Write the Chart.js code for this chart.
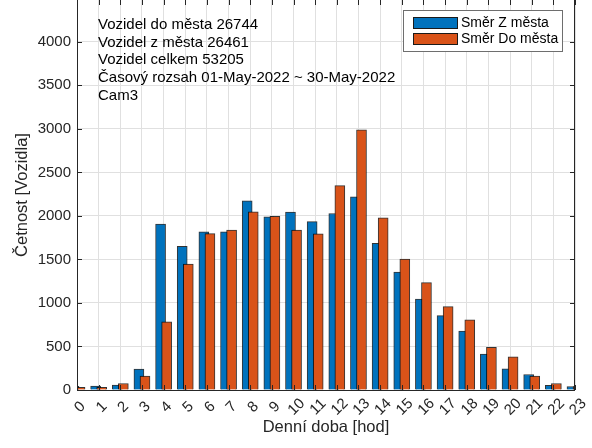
<!DOCTYPE html>
<html lang="cs">
<head>
<meta charset="UTF-8" />
<title>Četnost vozidel</title>
<script src="https://cdn.jsdelivr.net/npm/chart.js"></script>
<style>
  html, body { margin: 0; padding: 0; background: #fff; }
  #wrap { width: 592px; height: 448px; }
</style>
</head>
<body>
<div id="wrap"><canvas id="chart" width="592" height="448"></canvas></div>
<script>
  // hodiny dne a počty vozidel
  const hours = [0, 1, 2, 3, 4, 5, 6, 7, 8, 9, 10, 11, 12, 13, 14, 15, 16, 17, 18, 19, 20, 21, 22, 23];
  const smerZMesta = [42, 46, 57, 240, 1905, 1650, 1818, 1818, 2172, 1988, 2045, 1935,
                      2027, 2218, 1684, 1355, 1043, 855, 676, 412, 242, 178, 55, 40];
  const smerDoMesta = [30, 30, 75, 160, 782, 1447, 1797, 1836, 2046, 1995, 1836, 1793,
                       2348, 2990, 1977, 1505, 1234, 958, 806, 490, 380, 160, 75, 40];
  const yTickValues = [0, 500, 1000, 1500, 2000, 2500, 3000, 3500, 4000];
  const infoLines = [
    'Vozidel do města 26744',
    'Vozidel z města 26461',
    'Vozidel celkem 53205',
    'Časový rozsah 01-May-2022 ~ 30-May-2022',
    'Cam3'
  ];

  const FONT = "'Liberation Sans', Arial, Helvetica, sans-serif";
  const AXIS = '#262626';
  const GRID = '#e0e0e0';
  const shift = 0.14; // posun sloupců vůči hodině

  // osy MATLAB stylem: čáry a vnitřní tick značky
  const axesBox = {
    id: 'axesBox',
    afterDatasetsDraw(chart) {
      const { ctx, chartArea: a, scales: { x, y } } = chart;
      ctx.save();
      ctx.strokeStyle = AXIS;
      ctx.lineWidth = 1;
      ctx.beginPath();
      ctx.moveTo(a.left + 0.5, a.top);
      ctx.lineTo(a.left + 0.5, a.bottom + 0.5);
      ctx.lineTo(a.right - 0.5, a.bottom + 0.5);
      ctx.lineTo(a.right - 0.5, a.top);
      x.ticks.forEach(t => {
        const px = Math.round(x.getPixelForValue(t.value)) + 0.5;
        ctx.moveTo(px, a.bottom); ctx.lineTo(px, a.bottom - 5);
        ctx.moveTo(px, a.top); ctx.lineTo(px, a.top + 5);
      });
      y.ticks.forEach(t => {
        const py = Math.round(y.getPixelForValue(t.value)) + 0.5;
        ctx.moveTo(a.left, py); ctx.lineTo(a.left + 5, py);
        ctx.moveTo(a.right, py); ctx.lineTo(a.right - 5, py);
      });
      ctx.stroke();

      // popisky hodin otočené o 45°, centrované pod značkou
      ctx.fillStyle = AXIS;
      ctx.font = '15px ' + FONT;
      ctx.textAlign = 'center';
      ctx.textBaseline = 'middle';
      x.ticks.forEach(t => {
        ctx.save();
        ctx.translate(x.getPixelForValue(t.value) + 3, a.bottom + 17);
        ctx.rotate(-Math.PI / 4);
        ctx.fillText(String(t.value), 0, 0);
        ctx.restore();
      });
      ctx.restore();
    }
  };

  // textový popis vlevo nahoře
  const infoText = {
    id: 'infoText',
    afterDraw(chart) {
      const { ctx, chartArea: a } = chart;
      ctx.save();
      ctx.fillStyle = '#000';
      ctx.font = '15px ' + FONT;
      ctx.textBaseline = 'alphabetic';
      infoLines.forEach((line, i) => ctx.fillText(line, a.left + 21, 29 + i * 17.7));
      ctx.restore();
    }
  };

  // legenda uvnitř grafu
  const legendBox = {
    id: 'legendBox',
    afterDraw(chart) {
      const { ctx, chartArea: a } = chart;
      const w = 160, h = 42;
      const x0 = a.right - 12 - w, y0 = 10;
      ctx.save();
      ctx.fillStyle = '#fff';
      ctx.fillRect(x0, y0, w, h);
      ctx.strokeStyle = '#6e6e6e';
      ctx.lineWidth = 1;
      ctx.strokeRect(x0 + 0.5, y0 + 0.5, w - 1, h - 1);
      ctx.font = '14px ' + FONT;
      ctx.textBaseline = 'middle';
      chart.data.datasets.forEach((ds, i) => {
        const cy = y0 + 13 + i * 16;
        ctx.fillStyle = ds.backgroundColor;
        ctx.fillRect(x0 + 10, cy - 6, 45, 12);
        ctx.strokeStyle = '#1a1a1a';
        ctx.strokeRect(x0 + 10.5, cy - 5.5, 44, 11);
        ctx.fillStyle = '#000';
        ctx.fillText(ds.label, x0 + 58, cy);
      });
      ctx.restore();
    }
  };

  new Chart(document.getElementById('chart'), {
    type: 'bar',
    data: {
      datasets: [
        {
          label: 'Směr Z města',
          data: hours.map((h, i) => ({ x: h - shift, y: smerZMesta[i] })),
          backgroundColor: '#0072BD',
          borderColor: 'rgba(0,0,0,0.8)',
          borderWidth: 1,
          order: 1
        },
        {
          label: 'Směr Do města',
          data: hours.map((h, i) => ({ x: h + shift, y: smerDoMesta[i] })),
          backgroundColor: '#D95319',
          borderColor: 'rgba(0,0,0,0.8)',
          borderWidth: 1,
          order: 0
        }
      ]
    },
    options: {
      responsive: false,
      animation: false,
      devicePixelRatio: 1,
      layout: { padding: { left: 0, right: 17, top: 0, bottom: 0 } },
      datasets: { bar: { grouped: false, barThickness: 10, barPercentage: 1, clip: 0 } },
      plugins: { legend: { display: false }, tooltip: { enabled: false } },
      scales: {
        x: {
          type: 'linear',
          offset: false,
          min: 0,
          max: 23,
          afterBuildTicks: s => { s.ticks = hours.map(h => ({ value: h })); },
          ticks: { display: false, autoSkip: false },
          grid: { color: GRID, drawTicks: false, offset: false },
          border: { display: false },
          title: {
            display: true, text: 'Denní doba [hod]', color: AXIS,
            font: { family: FONT, size: 16.5 }, padding: { top: 0, bottom: 10.6 }
          },
          afterFit: s => { s.height = 58; s.paddingLeft = 0; s.paddingRight = 0; }
        },
        y: {
          min: 0,
          max: 4480,
          afterBuildTicks: s => { s.ticks = yTickValues.map(v => ({ value: v })); },
          ticks: {
            padding: 6,
            color: AXIS, font: { family: FONT, size: 15 },
            callback: v => String(v)
          },
          grid: { color: GRID, drawTicks: false },
          border: { display: false },
          title: {
            display: true, text: 'Četnost [Vozidla]', color: AXIS,
            font: { family: FONT, size: 16.5 }, padding: { top: 12.5, bottom: 0 }
          },
          afterFit: s => { s.width = 77; s.paddingTop = 0; s.paddingBottom = 0; }
        }
      }
    },
    plugins: [axesBox, infoText, legendBox]
  });
</script>
</body>
</html>
